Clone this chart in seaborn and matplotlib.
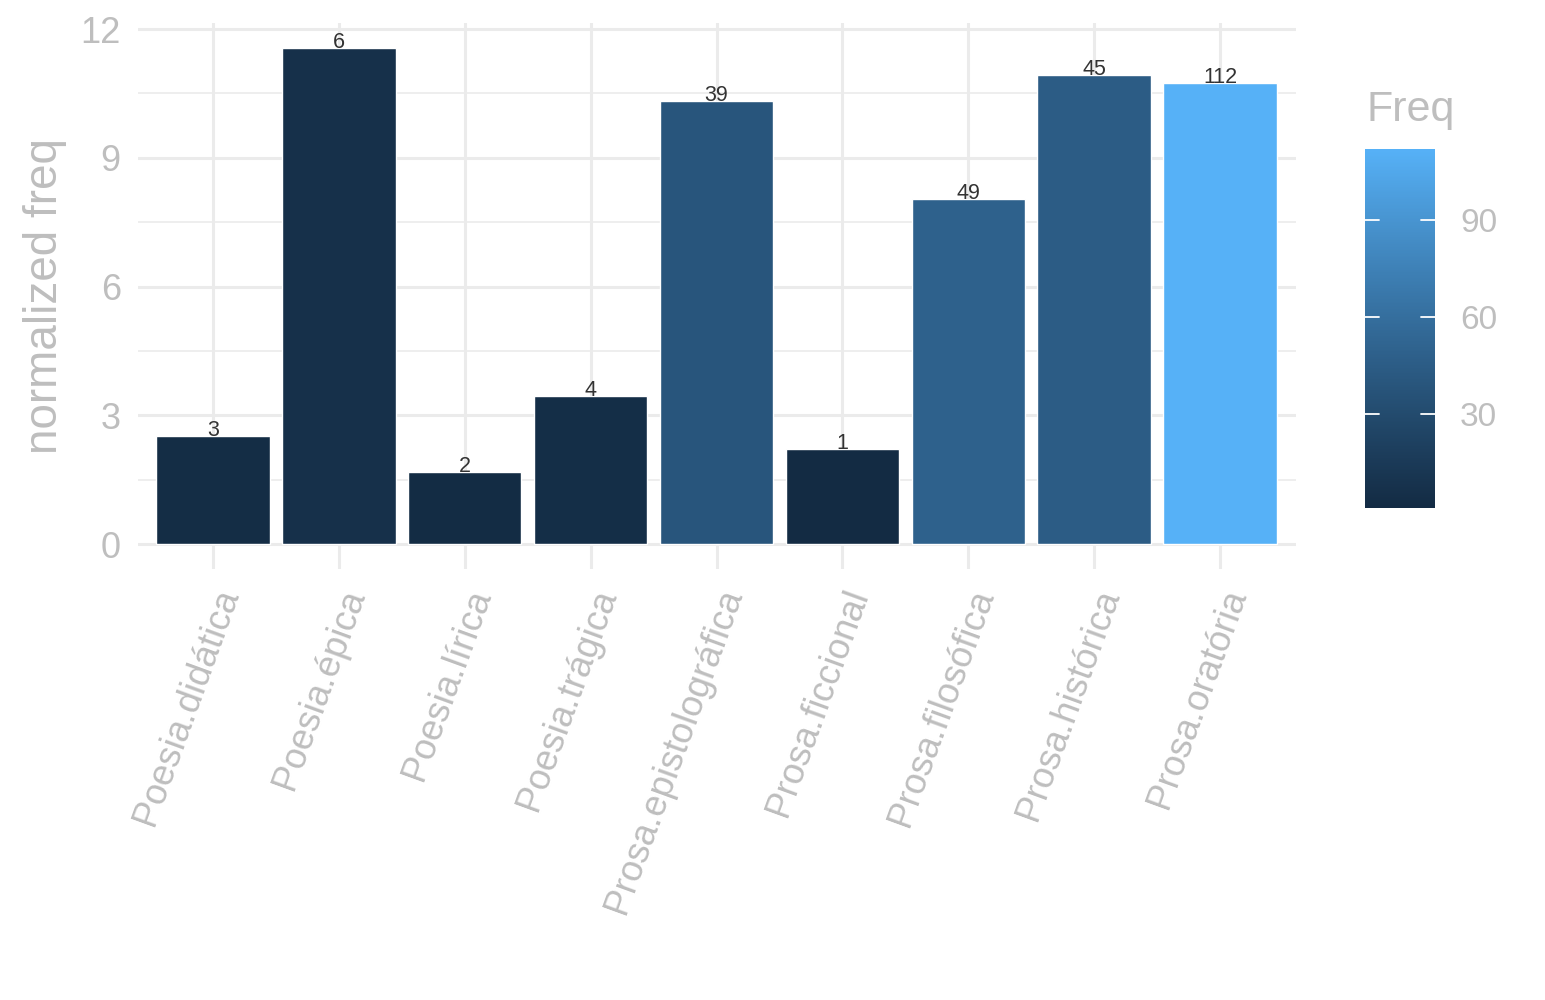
import numpy as np
import pandas as pd
import matplotlib
matplotlib.use('Agg')
import matplotlib.pyplot as plt
import matplotlib.colors as mcolors
import seaborn as sns

# data
generos = ['Poesia.didática', 'Poesia.épica', 'Poesia.lírica', 'Poesia.trágica',
           'Prosa.epistolográfica', 'Prosa.ficcional', 'Prosa.filosófica',
           'Prosa.histórica', 'Prosa.oratória']
norm_freq = [2.53, 11.56, 1.68, 3.46, 10.33, 2.22, 8.05, 10.93, 10.74]
freq = [3, 6, 2, 4, 39, 1, 49, 45, 112]
y_ticks = [0, 3, 6, 9, 12]
cbar_ticks = [30, 60, 90]

df = pd.DataFrame({'genero': generos, 'nfreq': norm_freq, 'Freq': freq})


# ggplot-like gradient (interpolated in Lab space)
WHITE = np.array([0.95047, 1.0, 1.08883])
M = np.array([[0.4124, 0.3576, 0.1805], [0.2126, 0.7152, 0.0722], [0.0193, 0.1192, 0.9505]])


def to_lab(c):
    rgb = np.array(mcolors.to_rgb(c))
    lin = np.where(rgb <= 0.04045, rgb / 12.92, ((rgb + 0.055) / 1.055) ** 2.4)
    t = (M @ lin) / WHITE
    f = np.where(t > 0.008856, np.cbrt(t), 7.787 * t + 16 / 116)
    return np.array([116 * f[1] - 16, 500 * (f[0] - f[1]), 200 * (f[1] - f[2])])


def from_lab(lab):
    fy = (lab[0] + 16) / 116
    f = np.array([fy + lab[1] / 500, fy, fy - lab[2] / 200])
    t = np.where(f ** 3 > 0.008856, f ** 3, (f - 16 / 116) / 7.787) * WHITE
    lin = np.linalg.solve(M, t)
    lin = np.clip(lin, 0, 1)
    rgb = np.where(lin <= 0.0031308, 12.92 * lin, 1.055 * lin ** (1 / 2.4) - 0.055)
    return np.clip(rgb, 0, 1)


lo, hi = to_lab('#132B43'), to_lab('#56B1F7')
cmap = mcolors.ListedColormap([from_lab(lo + (hi - lo) * s) for s in np.linspace(0, 1, 256)])
norm = mcolors.Normalize(vmin=min(freq), vmax=max(freq))
bar_colors = [cmap(norm(v)) for v in freq]

sns.set_theme(style='white')
plt.rcParams['font.family'] = ['Liberation Sans', 'DejaVu Sans']

grey_txt = '#BEBEBE'
grid_col = '#EBEBEB'

fig = plt.figure(figsize=(15.45, 10), dpi=100)
ax = fig.add_axes([137.5 / 1545, 1 - 569 / 1000, 1158 / 1545, 546 / 1000])

sns.barplot(data=df, x='genero', y='nfreq', hue='genero', palette=bar_colors,
            width=0.9, saturation=1, legend=False, ax=ax, zorder=3)

for i, (v, f) in enumerate(zip(norm_freq, freq)):
    ax.text(i, v, str(f), ha='center', va='baseline', fontsize=15.5, color='#333333', zorder=4)

ax.set_xlim(-0.6, len(generos) - 0.4)
ax.set_ylim(-0.58, 12.14)
ax.set_yticks(y_ticks)
ax.set_yticks([1.5, 4.5, 7.5, 10.5], minor=True)
ax.grid(True, which='major', axis='both', color=grid_col, linewidth=2.2, zorder=0)
ax.grid(True, which='minor', axis='y', color=grid_col, linewidth=1.2, zorder=0)
ax.set_axisbelow(True)
for s in ax.spines.values():
    s.set_visible(False)
ax.tick_params(axis='both', which='both', length=0, labelcolor=grey_txt, labelsize=26)
ax.tick_params(axis='y', pad=12)
ax.tick_params(axis='x', pad=11)
plt.setp(ax.get_xticklabels(), rotation=70, ha='right', va='top', rotation_mode='anchor',
         fontsize=26.5)
ax.set_xlabel('')
ax.set_ylabel('normalized freq', color=grey_txt, fontsize=33, labelpad=10)

# colourbar legend
cax = fig.add_axes([1365 / 1545, 1 - 508 / 1000, 70 / 1545, 359 / 1000])
sm = plt.cm.ScalarMappable(cmap=cmap, norm=norm)
cb = fig.colorbar(sm, cax=cax, ticks=cbar_ticks)
cb.outline.set_visible(False)
cax.tick_params(length=0, labelcolor=grey_txt, labelsize=24, pad=18)
# white tick marks on both edges of the bar, like ggplot
tr = cax.get_yaxis_transform()
for t in cbar_ticks:
    cax.plot([0, 0.2], [t, t], color='white', lw=1.3, transform=tr, zorder=5)
    cax.plot([0.8, 1], [t, t], color='white', lw=1.3, transform=tr, zorder=5)
fig.text(1366 / 1545, 1 - 121 / 1000, 'Freq', color=grey_txt, fontsize=31,
         ha='left', va='baseline')

fig.savefig('out.png', dpi=100)
